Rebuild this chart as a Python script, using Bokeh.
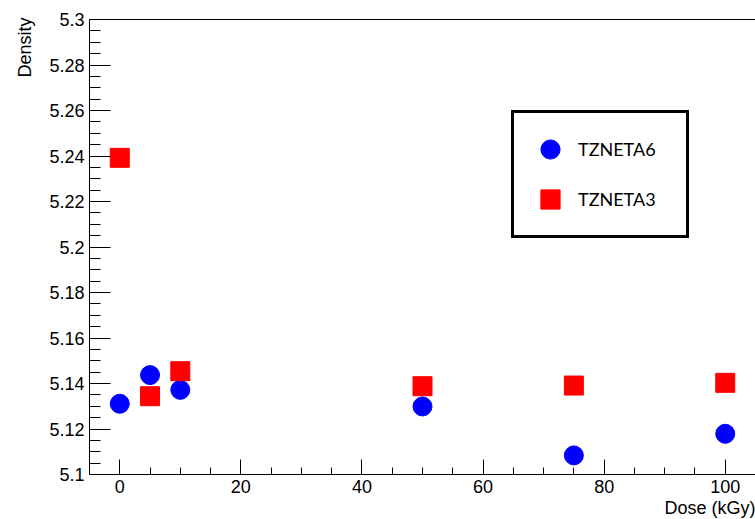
from bokeh.plotting import figure
from bokeh.models import (Range1d, FixedTicker, LinearAxis, Title, Legend, LegendItem,
                          ColumnDataSource)
from bokeh.embed import file_html
from bokeh.resources import INLINE

# ---- data ----
dose = [0, 5, 10, 50, 75, 100]
tzneta6 = [5.1311, 5.1437, 5.1372, 5.1299, 5.1084, 5.1179]
tzneta3 = [5.2392, 5.1344, 5.1454, 5.1388, 5.1391, 5.1403]
series_names = ["TZNETA6", "TZNETA3"]

x_major = [0, 20, 40, 60, 80, 100]
x_minor = [-5, 5, 10, 15, 25, 30, 35, 45, 50, 55, 65, 70, 75, 85, 90, 95, 105]
y_major = [5.1, 5.12, 5.14, 5.16, 5.18, 5.2, 5.22, 5.24, 5.26, 5.28, 5.3]
y_major_labels = ["5.1", "5.12", "5.14", "5.16", "5.18", "5.2", "5.22", "5.24", "5.26", "5.28", "5.3"]
y_minor = [round(5.1 + 0.005 * i, 4) for i in range(41)]

x_title = "Dose (kGy)"
y_title = "Density"

FONT = "Liberation Sans"
X0, X1 = -5, 105
Y0, Y1 = 5.1, 5.3

p = figure(width=755, height=519, output_backend="svg", toolbar_location=None,
           x_range=Range1d(X0, X1), y_range=Range1d(Y0, Y1),
           min_border_left=89, min_border_right=0, min_border_top=19, min_border_bottom=45,
           x_axis_type=None, y_axis_type=None)
p.grid.visible = False
p.outline_line_color = None
p.background_fill_color = "white"
p.border_fill_color = "white"

xaxis = LinearAxis(ticker=FixedTicker(ticks=x_major, minor_ticks=x_minor))
xaxis.major_tick_in = 15
xaxis.major_tick_out = 0
xaxis.minor_tick_in = 7
xaxis.minor_tick_out = 0
xaxis.major_label_standoff = 5
xaxis.major_label_text_font = FONT
xaxis.major_label_text_font_size = "18px"
xaxis.major_label_text_color = "black"
xaxis.axis_line_color = "black"
xaxis.major_tick_line_color = "black"
xaxis.minor_tick_line_color = "black"
p.add_layout(xaxis, "below")

yaxis = LinearAxis(ticker=FixedTicker(ticks=y_major, minor_ticks=y_minor))
yaxis.major_tick_in = 21
yaxis.major_tick_out = 0
yaxis.minor_tick_in = 11
yaxis.minor_tick_out = 0
yaxis.major_label_standoff = 5
yaxis.major_label_overrides = {v: s for v, s in zip(y_major, y_major_labels)}
yaxis.major_label_text_font = FONT
yaxis.major_label_text_font_size = "18px"
yaxis.major_label_text_color = "black"
yaxis.axis_line_color = "black"
yaxis.major_tick_line_color = "black"
yaxis.minor_tick_line_color = "black"
p.add_layout(yaxis, "left")

top = LinearAxis(ticker=FixedTicker(ticks=[], minor_ticks=[]))
top.axis_line_color = "black"
top.major_tick_out = 0
top.minor_tick_out = 0
top.major_label_standoff = 0
p.add_layout(top, "above")

src = ColumnDataSource(dict(dose=dose, a=tzneta6, b=tzneta3))
r6 = p.scatter("dose", "a", source=src, marker="circle", size=19,
               fill_color="#0000ff", line_color="#0000ff")
r3 = p.scatter("dose", "b", source=src, marker="square", size=19,
               fill_color="#ff0000", line_color="#ff0000")

legend = Legend(items=[LegendItem(label=series_names[0], renderers=[r6]),
                       LegendItem(label=series_names[1], renderers=[r3])],
                location=(422, 236), orientation="vertical",
                glyph_width=48, glyph_height=48, label_standoff=4,
                label_width=96, padding=12, spacing=2, margin=0,
                border_line_color="black", border_line_width=3, border_line_alpha=1.0,
                background_fill_color="white", background_fill_alpha=1.0,
                label_text_font="Lato", label_text_font_size="18px",
                label_text_color="black")
p.add_layout(legend, "center")

p.add_layout(Title(text=x_title, align="right", standoff=0, offset=0,
                   text_font=FONT, text_font_size="18px", text_font_style="normal",
                   text_color="black"), "below")
p.add_layout(Title(text=y_title, align="right", standoff=23, offset=-2,
                   text_font=FONT, text_font_size="18px", text_font_style="normal",
                   text_color="black"), "left")

open("out.html", "w").write(file_html(p, INLINE))
